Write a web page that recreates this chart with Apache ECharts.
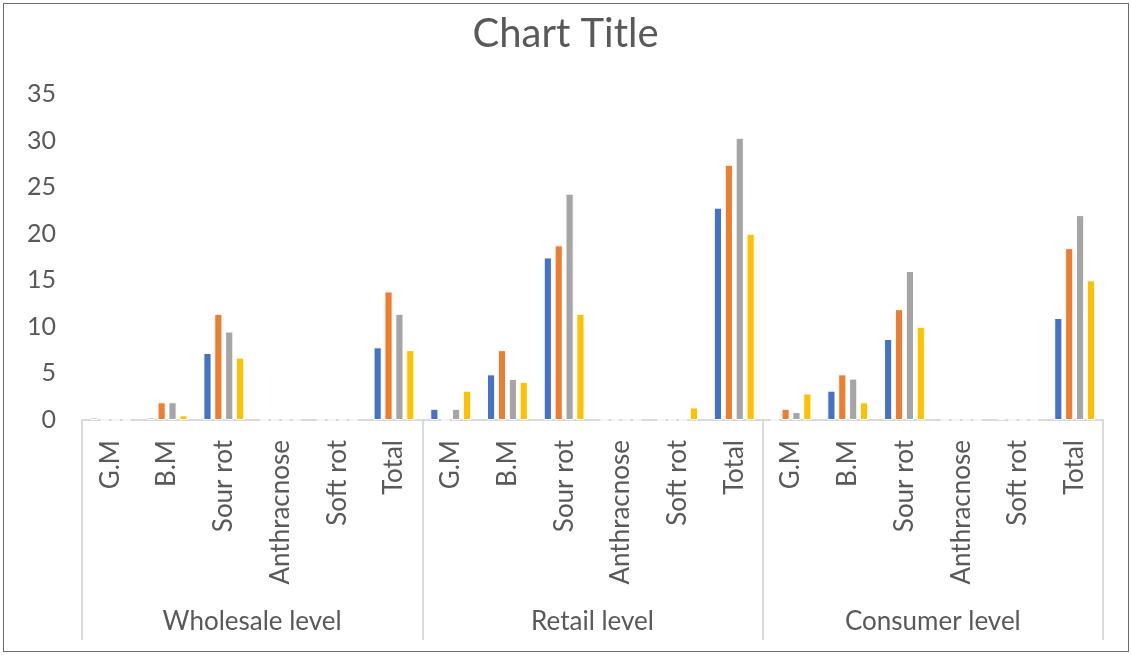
<!DOCTYPE html>
<html>
<head>
<meta charset="utf-8">
<script src="https://cdn.jsdelivr.net/npm/echarts@6/dist/echarts.min.js"></script>
<style>
html,body{margin:0;padding:0;background:#fff;}
#frame{position:absolute;left:3px;top:3px;width:1124px;height:647px;border:1px solid #6b6b6b;}
#chart{position:absolute;left:0;top:0;width:1131px;height:655px;}
</style>
</head>
<body>
<div id="frame"></div>
<div id="chart"></div>
<script>
const groups = ['Wholesale level', 'Retail level', 'Consumer level'];
const diseases = ['G.M', 'B.M', 'Sour rot', 'Anthracnose', 'Soft rot', 'Total'];
const categories = [].concat(diseases, diseases, diseases);
const series1 = [0.25, 0.25, 7.2, 0, 0, 7.8,   1.2, 4.9, 17.45, 0, 0, 22.8,   0, 3.15, 8.7, 0, 0.2, 10.95];
const series2 = [0, 1.9, 11.4, 0, 0, 13.8,     0, 7.5, 18.75, 0, 0, 27.4,     1.2, 4.9, 11.9, 0, 0, 18.45];
const series3 = [0, 1.9, 9.5, 0, 0, 11.4,      1.2, 4.4, 24.3, 0, 0, 30.3,    0.85, 4.45, 16.0, 0, 0, 22.0];
const series4 = [0, 0.5, 6.7, 0, 0, 7.5,       3.15, 4.1, 11.4, 0, 1.35, 20.0, 2.85, 1.9, 10.0, 0, 0, 15.0];
const seriesNames = ['Series1', 'Series2', 'Series3', 'Series4'];
const colors = ['#4472C4', '#ED7D31', '#A5A5A5', '#FFC000'];

const font = 'Lato';
const chart = echarts.init(document.getElementById('chart'));
const allData = [series1, series2, series3, series4];
chart.setOption({
  animation: false,
  title: {
    text: 'Chart Title', left: 'center', top: 9,
    textStyle: { fontFamily: font, fontSize: 40, fontWeight: 'normal', color: '#595959' }
  },
  grid: { left: 82, right: 28, top: 94, bottom: 235 },
  xAxis: [{
    type: 'category', data: categories, position: 'bottom',
    axisLine: { show: true, lineStyle: { color: '#d9d9d9', width: 2 } },
    axisTick: { show: false },
    axisLabel: { interval: 0, rotate: 90, margin: 20, fontFamily: font, fontSize: 26, color: '#595959' }
  }, {
    type: 'category', data: groups, position: 'bottom',
    axisLine: { show: true, lineStyle: { color: '#d9d9d9', width: 2 } },
    axisTick: { show: true, interval: 0, length: 220, lineStyle: { color: '#d9d9d9', width: 2 } },
    axisLabel: { interval: 0, margin: 189, fontFamily: font, fontSize: 26, color: '#595959' }
  }],
  yAxis: {
    type: 'value', min: 0, max: 35, interval: 5,
    axisLine: { show: false }, axisTick: { show: false },
    splitLine: { show: false },
    axisLabel: { margin: 26, fontFamily: font, fontSize: 25, color: '#595959' }
  },
  series: allData.map((d, i) => ({
    name: seriesNames[i], type: 'bar', xAxisIndex: 0, data: d,
    barGap: '33%', barCategoryGap: '28%',
    itemStyle: { color: colors[i], borderColor: '#ffffff', borderWidth: 1 }
  }))
});
</script>
</body>
</html>
